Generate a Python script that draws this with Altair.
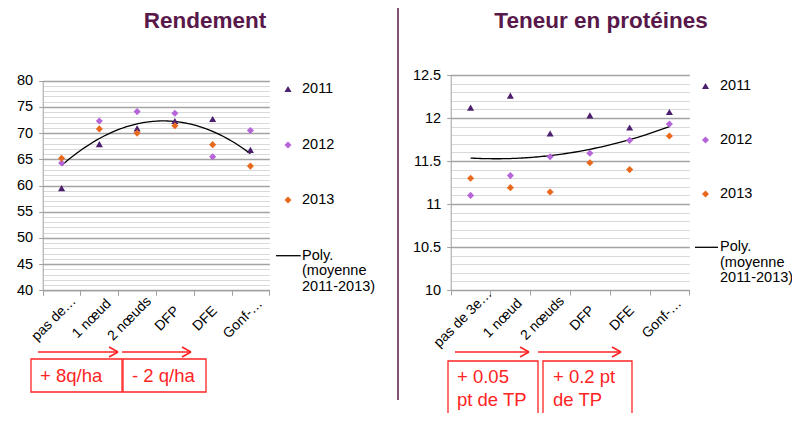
import altair as alt
import pandas as pd

# ---------------- data ----------------
years = ["2011", "2012", "2013"]
stages_left = ["pas de…", "1 nœud", "2 nœuds", "DFP", "DFE", "Gonf-…"]
stages_right = ["pas de 3e…", "1 nœud", "2 nœuds", "DFP", "DFE", "Gonf-…"]

rdt_2011 = [59.5, 67.9, 70.9, 72.3, 72.7, 66.8]
rdt_2012 = [64.3, 72.3, 74.1, 73.8, 65.5, 70.5]
rdt_2013 = [65.2, 70.8, 70.0, 71.4, 67.8, 63.7]

tp_2011 = [12.12, 12.26, 11.82, 12.03, 11.89, 12.07]
tp_2012 = [11.10, 11.33, 11.55, 11.59, 11.74, 11.93]
tp_2013 = [11.30, 11.19, 11.14, 11.48, 11.40, 11.79]

titles = ["Rendement", "Teneur en protéines"]
poly_label = ["Poly.", "(moyenne", "2011-2013)"]
left_notes = ["+ 8q/ha", "- 2 q/ha"]
right_notes = [["+ 0.05", "pt de TP"], ["+ 0.2 pt", "de TP"]]

left_ticks_major = [40, 45, 50, 55, 60, 65, 70, 75, 80]
left_ticks_minor = list(range(40, 81))
right_ticks_major = [10, 10.5, 11, 11.5, 12, 12.5]
right_ticks_minor = [round(10 + 0.1 * i, 1) for i in range(26)]

# ---------------- style ----------------
FONT = "Liberation Sans"
COLORS = ["#4B1E6E", "#B565D8", "#E8691E"]
SHAPES = ["triangle-up", "diamond", "diamond"]
GRID_MAJOR = "#A3A3A3"
GRID_MINOR = "#D9D9D9"
AXIS_GRAY = "#A0A0A0"
RED = "#FF2424"
TITLE_COL = "#58184A"
H = 405


def long_df(series, n):
    rows = []
    for yr, vals in zip(years, series):
        for i, v in enumerate(vals):
            rows.append({"idx": i + 1, "val": v, "year": yr})
    return pd.DataFrame(rows)


def blank():
    return alt.Chart(pd.DataFrame({"k": [0]}))


def text_at(x, y, s, size=14.5, color="#000000", weight="normal", align="left"):
    return blank().mark_text(text=s, fontSize=size, font=FONT, color=color,
                             fontWeight=weight, align=align, baseline="middle").encode(
        x=alt.value(x), y=alt.value(y))


def rule_at(x1, y1, x2, y2, color, width):
    return blank().mark_rule(color=color, strokeWidth=width).encode(
        x=alt.value(x1), y=alt.value(y1), x2=alt.value(x2), y2=alt.value(y2))


def box_at(x1, y1, x2, y2):
    return blank().mark_rect(fillOpacity=0, stroke=RED, strokeWidth=1.3).encode(
        x=alt.value(x1), x2=alt.value(x2), y=alt.value(y1), y2=alt.value(y2))


def arrow(x1, x2, y):
    return [rule_at(x1, y, x2, y, RED, 1.6),
            rule_at(x2 - 9, y - 5, x2, y, RED, 1.6),
            rule_at(x2 - 9, y + 5, x2, y, RED, 1.6)]


def sym_at(x, y, i):
    return blank().mark_point(shape=SHAPES[i], filled=True, opacity=1, size=50,
                              color=COLORS[i]).encode(x=alt.value(x), y=alt.value(y))


def panel(df, labels, ydom, ymajor, yminor, xr, yr, fmt):
    xs = alt.Scale(domain=[0.5, 6.5], range=xr, nice=False, zero=False)
    ys = alt.Scale(domain=ydom, range=yr, nice=False, zero=False)
    xoff = yr[0] - H
    label_expr = "[" + ",".join("'" + l + "'" for l in labels) + "][datum.value - 1]"

    trend = alt.Chart(df).transform_regression(
        "idx", "val", method="poly", order=2, extent=[1, 6]
    ).mark_line(color="#000000", strokeWidth=1.3).encode(
        x=alt.X("idx:Q", scale=xs, axis=alt.Axis(
            orient="bottom", offset=xoff, values=[0.5, 1.5, 2.5, 3.5, 4.5, 5.5, 6.5],
            labels=False, grid=False, domain=True, domainColor=AXIS_GRAY, domainWidth=1,
            ticks=True, tickColor=AXIS_GRAY, tickSize=5, title=None)),
        y=alt.Y("val:Q", scale=ys, axis=alt.Axis(
            orient="left", offset=-xr[0], values=yminor, labels=False, grid=True,
            gridColor=GRID_MINOR, gridWidth=1, domain=False, ticks=False, title=None)),
    )

    points = alt.Chart(df).mark_point(filled=True, opacity=1, size=50).encode(
        x=alt.X("idx:Q", scale=xs, axis=alt.Axis(
            orient="bottom", offset=xoff, values=[1, 2, 3, 4, 5, 6], labelExpr=label_expr,
            labelAngle=315, labelAlign="center", labelBaseline="middle",
            labelPadding=28, labelOffset=-8, labelOverlap=False, labelFlush=False,
            labelFont=FONT, labelFontSize=14, labelColor="#000000",
            ticks=False, tickSize=0, domain=False, grid=False, title=None)),
        y=alt.Y("val:Q", scale=ys, axis=alt.Axis(
            orient="left", offset=-xr[0], values=ymajor, format=fmt, grid=True,
            gridColor=GRID_MAJOR, gridWidth=1.3, domain=True, domainColor=AXIS_GRAY,
            ticks=True, tickColor=AXIS_GRAY, tickSize=4, labelPadding=6,
            labelFont=FONT, labelFontSize=14.5, labelColor="#000000", title=None)),
        color=alt.Color("year:N", scale=alt.Scale(domain=years, range=COLORS), legend=None),
        shape=alt.Shape("year:N", scale=alt.Scale(domain=years, range=SHAPES), legend=None),
    )
    return [trend, points]


df_left = long_df([rdt_2011, rdt_2012, rdt_2013], 6)
df_right = long_df([tp_2011, tp_2012, tp_2013], 6)

layers = []
layers += panel(df_left, stages_left, [40, 80], left_ticks_major, left_ticks_minor,
                [34.7, 261.3], [282.3, 72.7], "~g")
layers += panel(df_right, stages_right, [10, 12.5], right_ticks_major, right_ticks_minor,
                [442.7, 681.3], [282, 67], "~g")

# titles and divider
layers.append(text_at(197, 13, titles[0], size=22.5, color=TITLE_COL, weight="bold", align="center"))
layers.append(text_at(593, 13, titles[1], size=22.5, color=TITLE_COL, weight="bold", align="center"))
layers.append(rule_at(390, -8, 390, 392, TITLE_COL, 1.5))

# legends
for (mx, tx, ys, px1, px2, py) in [
    (280, 294, [81, 137, 192], 268, 292.7, 247.7),
    (697.5, 712, [78, 132, 186], 687, 710, 239.3),
]:
    for i, yr in enumerate(years):
        layers.append(sym_at(mx, ys[i], i))
        layers.append(text_at(tx, ys[i], yr))
    layers.append(rule_at(px1, py, px2, py, "#000000", 1.3))
    for j, s in enumerate(poly_label):
        layers.append(text_at(tx, py + 15.5 * j, s))

# annotations, left
layers += arrow(30, 110, 344)
layers += arrow(114, 183, 344)
layers.append(box_at(23, 351, 114, 384))
layers.append(box_at(115, 351, 198, 384))
layers.append(text_at(32, 368, left_notes[0], size=18.5, color=RED))
layers.append(text_at(124, 368, left_notes[1], size=18.5, color=RED))

# annotations, right
layers += arrow(447, 521, 344)
layers += arrow(530, 613, 344)
layers.append(box_at(440, 353, 530, 408))
layers.append(box_at(535, 353, 624, 408))
for k, x0 in enumerate([449, 545]):
    for j, s in enumerate(right_notes[k]):
        layers.append(text_at(x0, 369 + 23 * j, s, size=18.5, color=RED))

chart = alt.layer(*layers).resolve_scale(
    x="independent", y="independent", color="independent", shape="independent"
).properties(
    width=784, height=H, padding=0, autosize=alt.AutoSizeParams(type="none")
).configure_view(stroke=None)

chart.save("out.html", embed_options={"renderer": "svg", "actions": False})
